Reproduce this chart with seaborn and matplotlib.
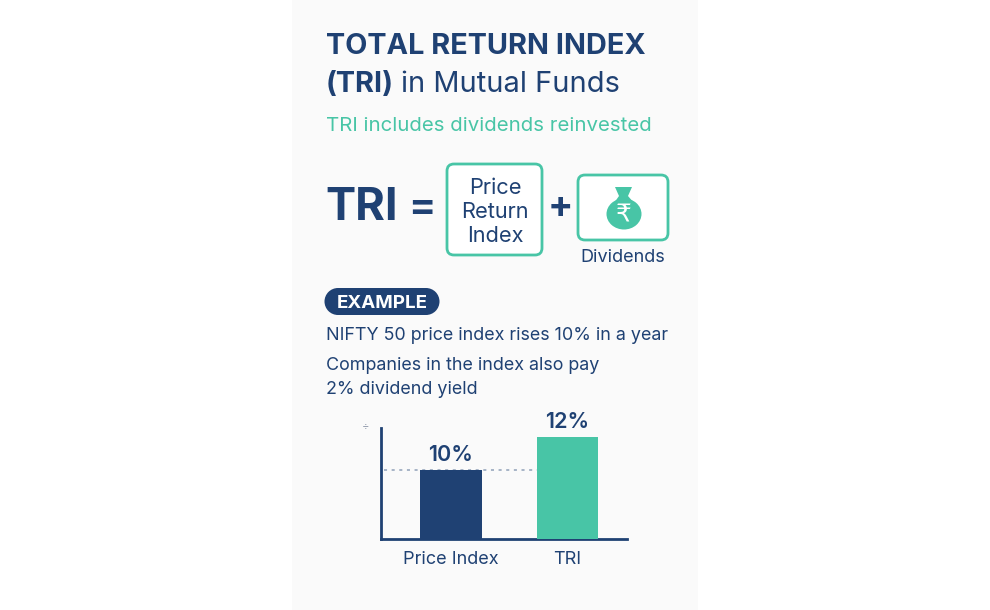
import pandas as pd
import seaborn as sns
import matplotlib.pyplot as plt
from matplotlib.patches import FancyBboxPatch, Rectangle, Ellipse, Polygon

NAVY = "#1f4173"
GREEN = "#48c5a6"

categories = ["Price Index", "TRI"]
returns = [10, 12]
example_lines = ["NIFTY 50 price index rises 10% in a year",
                 "Companies in the index also pay",
                 "2% dividend yield"]

sns.set_theme(style="white")
plt.rcParams["font.family"] = ["Inter", "DejaVu Sans"]

W, H = 990, 610
fig = plt.figure(figsize=(W / 100, H / 100), dpi=100, facecolor="white")

# page overlay in pixel coordinates
bg = fig.add_axes([0, 0, 1, 1])
bg.set_xlim(0, W)
bg.set_ylim(H, 0)
bg.axis("off")
bg.add_patch(Rectangle((292, 0), 406, H, fc="#fafafa", ec="none"))

bg.text(326, 47, "TOTAL RETURN INDEX", fontsize=20.8, fontweight="bold", color=NAVY, va="center")
bg.text(326, 85, "(TRI)", fontsize=20.8, fontweight="bold", color=NAVY, va="center")
bg.text(401, 85, "in Mutual Funds", fontsize=20.9, color=NAVY, va="center")
bg.text(326, 126, "TRI includes dividends reinvested", fontsize=14.7, color=GREEN, va="center")

bg.text(325, 208, "TRI", fontsize=32.5, fontweight="bold", color=NAVY, va="center")
bg.text(408, 208, "=", fontsize=29, fontweight="bold", color=NAVY, va="center", ha="left")
bg.text(560, 208, "+", fontsize=27, fontweight="bold", color=NAVY, va="center", ha="center")

for x0, y0, x1, y1 in [(447, 164, 542, 255), (578, 175, 668, 240)]:
    bg.add_patch(FancyBboxPatch((x0 + 6, y0 + 6), x1 - x0 - 12, y1 - y0 - 12,
                                boxstyle="round,pad=6,rounding_size=7",
                                fc="white", ec=GREEN, lw=2))
for y, word in zip([188, 212, 236], ["Price", "Return", "Index"]):
    bg.text(495, y, word, fontsize=15.7, color=NAVY, ha="center", va="center")
bg.text(623, 258, "Dividends", fontsize=13, color=NAVY, ha="center", va="center")

# money bag
bg.add_patch(Ellipse((624, 214), 35, 31, fc=GREEN, ec="none"))
bg.add_patch(Polygon([[615, 187], [632, 187], [628, 196], [634, 203], [614, 203], [619, 196]],
                     fc=GREEN, ec="none"))
bg.text(624, 215, "₹", fontsize=18, color="white", ha="center", va="center",
        family=["DejaVu Sans"])

# EXAMPLE pill
bg.add_patch(Rectangle((338, 288), 88, 27, fc=NAVY, ec="none"))
bg.add_patch(Ellipse((338, 301.5), 27, 27, fc=NAVY, ec="none"))
bg.add_patch(Ellipse((426, 301.5), 27, 27, fc=NAVY, ec="none"))
bg.text(382, 303, "EXAMPLE", fontsize=13.5, fontweight="bold", color="white", ha="center", va="center")

for y, line in zip([336, 366, 389], example_lines):
    bg.text(326, y, line, fontsize=12.9, color=NAVY, va="center")
bg.text(366, 426, "÷", fontsize=8, color="#8a94a6", ha="center", va="center")

# bar chart, spine at x=381, baseline at y=539
left, right, top, bottom = 381, 627, 428, 539
ax = fig.add_axes([left / W, 1 - bottom / H, (right - left) / W, (bottom - top) / H])
ax.patch.set_alpha(0)
df = pd.DataFrame({"category": categories, "value": returns})
sns.barplot(data=df, x="category", y="value", hue="category",
            palette=[NAVY, GREEN], width=0.525, legend=False, saturation=1,
            linewidth=0, ax=ax, zorder=3)
ax.hlines(returns[0], -0.57, 0.74, color="#8fa0b8", lw=1.1, linestyles=(0, (2, 3)), zorder=1)
ax.set_xlim(-0.6, 1.51)
ax.set_ylim(5.82, 12.55)
ax.set_yticks([])
ax.set_xlabel("")
ax.set_ylabel("")
ax.tick_params(axis="x", length=0, pad=9, labelsize=13, labelcolor=NAVY)
sns.despine(ax=ax)
for side in ["left", "bottom"]:
    ax.spines[side].set_color(NAVY)
    ax.spines[side].set_linewidth(2)
for c in ax.containers:
    ax.bar_label(c, fmt="%g%%", padding=4, fontsize=15.5, fontweight="semibold", color=NAVY, clip_on=False)

fig.savefig("out.png", dpi=100)
